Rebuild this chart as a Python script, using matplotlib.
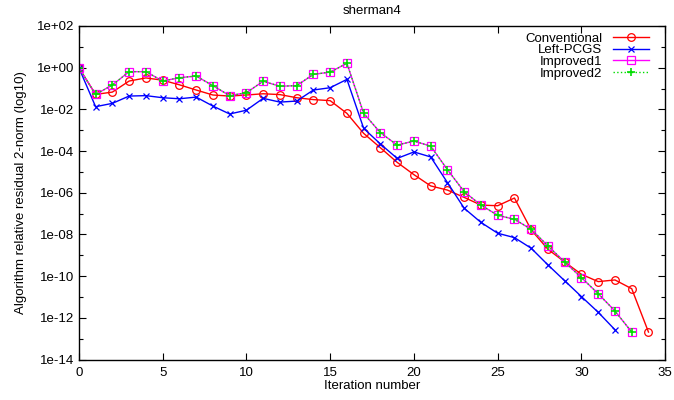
import numpy as np
import matplotlib.pyplot as plt
from matplotlib.ticker import FixedLocator, FixedFormatter, NullFormatter

plt.rcParams['font.family'] = ['Liberation Sans', 'DejaVu Sans']

# log10 of the residual
conventional = [0.0, -1.28, -1.17, -0.64, -0.49, -0.60, -0.82, -1.07, -1.31, -1.36,
                -1.31, -1.25, -1.29, -1.44, -1.53, -1.58, -2.19, -3.15, -3.84, -4.54,
                -5.13, -5.67, -5.87, -6.22, -6.59, -6.62, -6.25, -7.78, -8.71, -9.32,
                -9.91, -10.26, -10.18, -10.60, -12.68]
left_pcgs = [0.0, -1.87, -1.71, -1.36, -1.34, -1.44, -1.49, -1.41, -1.84, -2.22,
             -2.04, -1.47, -1.65, -1.60, -1.07, -0.96, -0.56, -2.91, -3.66, -4.35,
             -4.04, -4.28, -5.51, -6.74, -7.42, -7.94, -8.15, -8.66, -9.46, -10.22,
             -10.98, -11.73, -12.57]
improved1 = [0.0, -1.28, -0.83, -0.19, -0.19, -0.64, -0.48, -0.40, -0.86, -1.34,
             -1.20, -0.65, -0.89, -0.86, -0.32, -0.21, 0.21, -2.19, -3.12, -3.71,
             -3.52, -3.76, -4.89, -5.95, -6.59, -7.08, -7.27, -7.75, -8.55, -9.32,
             -10.07, -10.84, -11.67, -12.68]
improved2 = [0.0, -1.28, -0.83, -0.19, -0.19, -0.64, -0.48, -0.40, -0.86, -1.34,
             -1.20, -0.65, -0.89, -0.86, -0.32, -0.21, 0.21, -2.19, -3.12, -3.71,
             -3.52, -3.76, -4.89, -5.95, -6.59, -7.08, -7.27, -7.75, -8.55, -9.32,
             -10.07, -10.84, -11.67, -12.68]

fig = plt.figure(figsize=(6.74, 4.0), dpi=100)
ax = fig.add_axes([0.117, 0.101, 0.87, 0.834])

def it(v):
    return np.arange(len(v))

ax.plot(it(conventional), 10.0 ** np.array(conventional), color='#ff0000', lw=1,
        marker='o', ms=5.5, mfc='none', mew=0.9, label='Conventional')
ax.plot(it(left_pcgs), 10.0 ** np.array(left_pcgs), color='#0000ff', lw=1,
        marker='x', ms=5, mew=0.9, label='Left-PCGS')
ax.plot(it(improved1), 10.0 ** np.array(improved1), color='#ff00ff', lw=1,
        marker='s', ms=5.5, mfc='none', mew=0.9, label='Improved1')
ax.plot(it(improved2), 10.0 ** np.array(improved2), color='#00dd00', lw=1, ls=':',
        marker='+', ms=6, mew=1.2, label='Improved2')

ax.set_yscale('log')
ax.set_xlim(0, 35)
ax.set_ylim(1e-14, 1e2)

ax.set_xticks(range(0, 36, 5))
ymaj = [10.0 ** e for e in range(-14, 3, 2)]
ax.yaxis.set_major_locator(FixedLocator(ymaj))
ax.yaxis.set_major_formatter(FixedFormatter(['1e%+03d' % e for e in range(-14, 3, 2)]))
ax.yaxis.set_minor_locator(FixedLocator([10.0 ** e for e in range(-13, 2, 2)]))
ax.yaxis.set_minor_formatter(NullFormatter())
ax.tick_params(which='both', direction='in', top=True, right=True, labelsize=9.5,
               width=0.8)
ax.tick_params(which='major', length=5)
ax.tick_params(which='minor', length=3)
ax.tick_params(axis='x', pad=5)
for s in ax.spines.values():
    s.set_linewidth(1)

ax.set_title('sherman4', fontsize=9.5, pad=9)
ax.set_xlabel('Iteration number', fontsize=9.5, labelpad=1)
ax.set_ylabel('Algorithm relative residual 2-norm (log10)', fontsize=9.5, labelpad=7)

ax.legend(loc='upper right', bbox_to_anchor=(0.983, 1.0), markerfirst=False,
          frameon=False, fontsize=9.5, handlelength=2.7, labelspacing=-0.05,
          borderaxespad=0.2, handletextpad=0.8, borderpad=0.3)

fig.savefig('out.png', dpi=100)
